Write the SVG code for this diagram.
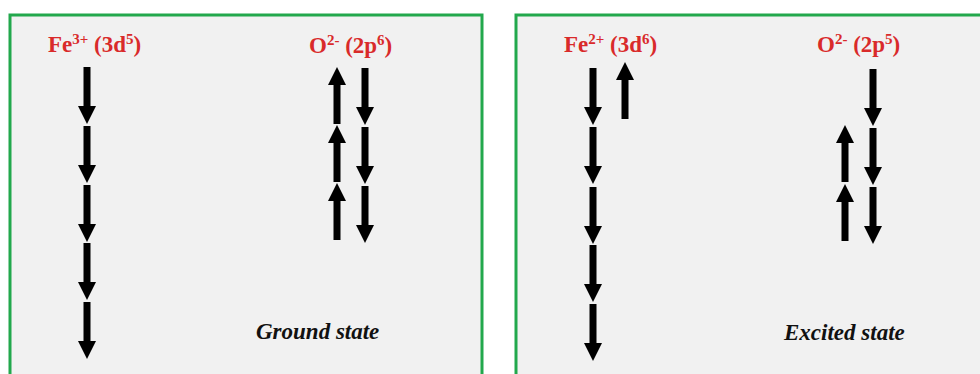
<svg xmlns="http://www.w3.org/2000/svg" width="980" height="374" viewBox="0 0 980 374">
<style>
.panel{fill:#f1f1f1;stroke:#22a84c;stroke-width:3}
.lbl{font-family:'Liberation Serif','DejaVu Serif',serif;font-weight:700;font-size:23px;fill:#d92a2a}
.sup{font-size:15px}
.state{font-family:'Liberation Serif','DejaVu Serif',serif;font-weight:700;font-style:italic;font-size:23px;fill:#111}
.arr{fill:#000}
</style>
<defs>
<path id="dn" class="arr" d="M-3.5,0 H3.5 V39 H9 L0,57 L-9,39 H-3.5 Z"/>
<path id="up" class="arr" d="M0,0 L9,18 H3.5 V57 H-3.5 V18 H-9 Z"/>
</defs>
<rect width="980" height="374" fill="#ffffff"/>
<g id="ground">
<rect class="panel" x="10" y="15" width="472" height="380"/>
<g id="fe3">
<text class="lbl" x="48" y="52">Fe<tspan class="sup" dy="-8">3+</tspan><tspan dy="8"> (3d</tspan><tspan class="sup" dy="-8">5</tspan><tspan dy="8">)</tspan></text>
<use href="#dn" x="87" y="67"/>
<use href="#dn" x="87" y="126"/>
<use href="#dn" x="87" y="185"/>
<use href="#dn" x="87" y="243"/>
<use href="#dn" x="87" y="302"/>
</g>
<g id="o2g">
<text class="lbl" x="309" y="53">O<tspan class="sup" dy="-8">2-</tspan><tspan dy="8"> (2p</tspan><tspan class="sup" dy="-8">6</tspan><tspan dy="8">)</tspan></text>
<use href="#up" x="337" y="67"/>
<use href="#up" x="337" y="125"/>
<use href="#up" x="337" y="183"/>
<use href="#dn" x="365" y="68"/>
<use href="#dn" x="365" y="127"/>
<use href="#dn" x="365" y="186"/>
</g>
<text class="state" x="256" y="339">Ground state</text>
</g>
<g id="excited">
<rect class="panel" x="516" y="15" width="480" height="380"/>
<g id="fe2">
<text class="lbl" x="564" y="52">Fe<tspan class="sup" dy="-8">2+</tspan><tspan dy="8"> (3d</tspan><tspan class="sup" dy="-8">6</tspan><tspan dy="8">)</tspan></text>
<use href="#dn" x="593" y="68"/>
<use href="#dn" x="593" y="127"/>
<use href="#dn" x="593" y="187"/>
<use href="#dn" x="593" y="245"/>
<use href="#dn" x="593" y="304"/>
<use href="#up" x="625" y="62"/>
</g>
<g id="o2e">
<text class="lbl" x="817" y="52">O<tspan class="sup" dy="-8">2-</tspan><tspan dy="8"> (2p</tspan><tspan class="sup" dy="-8">5</tspan><tspan dy="8">)</tspan></text>
<use href="#dn" x="873" y="69"/>
<use href="#dn" x="873" y="128"/>
<use href="#dn" x="873" y="187"/>
<use href="#up" x="845" y="125"/>
<use href="#up" x="845" y="184"/>
</g>
<text class="state" x="784" y="340">Excited state</text>
</g>
<g id="connectors"/>
</svg>
